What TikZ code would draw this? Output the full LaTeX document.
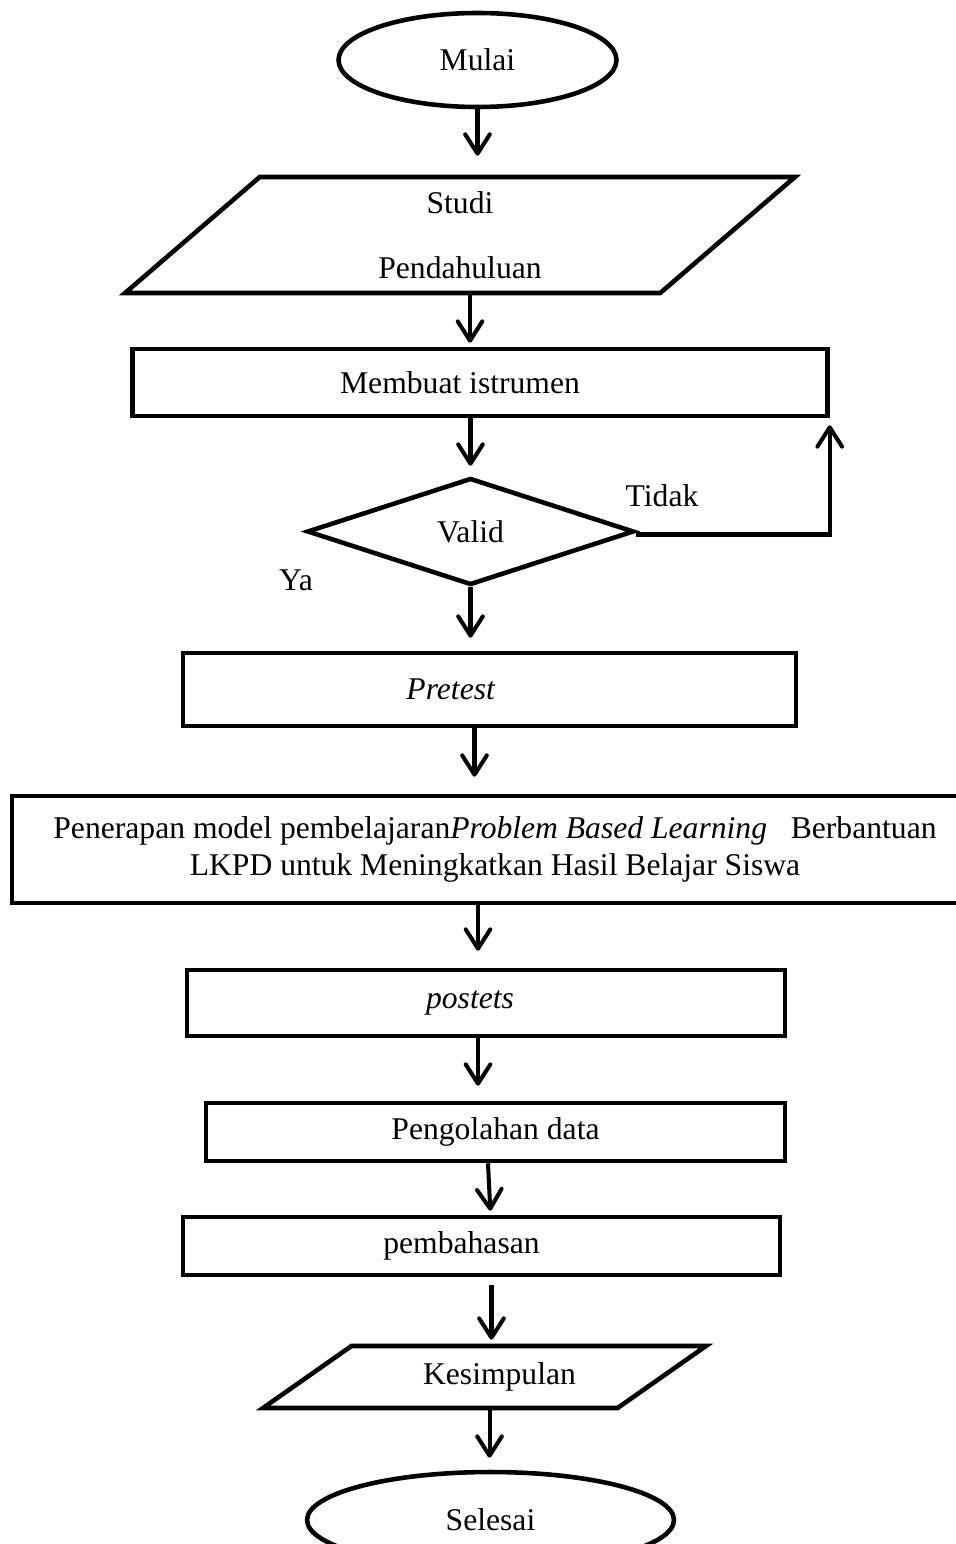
\documentclass[tikz,border=0pt]{standalone}
\usepackage{fontspec}
\setmainfont{Liberation Serif}
\usetikzlibrary{arrows.meta,shapes.geometric}

\tikzset{
  box/.style={draw, line width=2.6pt, rectangle, inner sep=2pt, font=\fontsize{18}{22}\selectfont},
  slanted/.style={draw, line width=2.6pt, trapezium, trapezium stretches body, inner sep=2pt, font=\fontsize{18}{22}\selectfont},
  oval/.style={draw, line width=2.6pt, ellipse, inner sep=0pt, font=\fontsize{18}{22}\selectfont},
  arr/.style={-{Straight Barb[length=11pt,width=14pt,round]}, line width=2.3pt},
}

\begin{document}
\begin{tikzpicture}[x=0.02cm,y=-0.02cm]
\useasboundingbox (0,0) rectangle (956,1544);

\node[oval, minimum width=5.56cm, minimum height=1.88cm] (mulai) at (477.5,60) {Mulai};
\node[slanted, trapezium left angle=35, trapezium right angle=145, minimum width=13.4cm, minimum height=2.32cm, align=center, font=\fontsize{18}{37}\selectfont] (studi) at (460,235) {Studi\\Pendahuluan};
\node[box, minimum width=13.9cm, minimum height=1.34cm] (membuat) at (480,382.5) {Membuat istrumen\kern0.8cm};
\node[draw, line width=2.6pt, diamond, inner sep=0pt, minimum width=6.54cm, minimum height=2.14cm, font=\fontsize{18}{22}\selectfont] (valid) at (470.5,531.5) {Valid};
\node[box, minimum width=12.26cm, minimum height=1.46cm] (pretest) at (489.5,689.5) {\textit{Pretest}\kern1.54cm};
\node[box, minimum width=19.32cm, minimum height=2.14cm, align=center, font=\fontsize{18}{21}\selectfont] (penerapan) at (495,849.5) {Penerapan model pembelajaran\textit{Problem Based Learning}\ \ \ Berbantuan\\LKPD untuk Meningkatkan Hasil Belajar Siswa};
\node[box, minimum width=11.96cm, minimum height=1.32cm] (postets) at (486,1003) {\textit{postets}\kern0.64cm};
\node[box, minimum width=11.58cm, minimum height=1.16cm] (olah) at (495.5,1132) {Pengolahan data};
\node[box, minimum width=11.94cm, minimum height=1.16cm] (bahas) at (481.5,1246) {pembahasan\kern0.8cm};
\node[slanted, trapezium left angle=22, trapezium right angle=158, minimum width=8.86cm, minimum height=1.24cm] (simpul) at (484.5,1377) {\kern0.6cm Kesimpulan};
\node[oval, minimum width=7.34cm, minimum height=1.92cm] (selesai) at (490.5,1520) {Selesai};

\node[font=\fontsize{18}{22}\selectfont] (tidak) at (662,496) {Tidak};
\node[font=\fontsize{18}{22}\selectfont] (ya) at (296,580) {Ya};

\draw[arr, shorten >=0.38cm] (mulai.south) -- (mulai.south |- studi.north);
\draw[arr, shorten >=0.08cm] ([xshift=0.2cm]studi.south) -- ([xshift=0.2cm]studi.south |- membuat.north);
\draw[arr, shorten >=0.2cm] (valid.north |- membuat.south) -- (valid.north);
\draw[arr, shorten >=0.14cm] ([yshift=-0.06cm]valid.east) -| (membuat.south east);
\draw[arr, shorten >=0.26cm] (valid.south) -- (valid.south |- pretest.north);
\draw[arr, shorten >=0.34cm] ([xshift=-0.3cm]pretest.south) -- ([xshift=-0.3cm]pretest.south |- penerapan.north);
\draw[arr, shorten >=0.34cm] ([xshift=-0.34cm]penerapan.south) -- ([xshift=-0.34cm]penerapan.south |- postets.north);
\draw[arr, shorten >=0.3cm] ([xshift=-0.16cm]postets.south) -- ([xshift=-0.16cm]postets.south |- olah.north);
\draw[arr, shorten >=0.08cm] ([xshift=-0.15cm]olah.south) -- ([xshift=-0.1cm]olah.south |- bahas.north);
\draw[arr, shorten <=0.16cm, shorten >=0.08cm] ([xshift=0.2cm]bahas.south) -- ([xshift=0.2cm]bahas.south |- simpul.north);
\draw[arr, shorten >=0.24cm] ([xshift=0.1cm]simpul.south) -- ([xshift=0.1cm]simpul.south |- selesai.north);

\end{tikzpicture}
\end{document}
